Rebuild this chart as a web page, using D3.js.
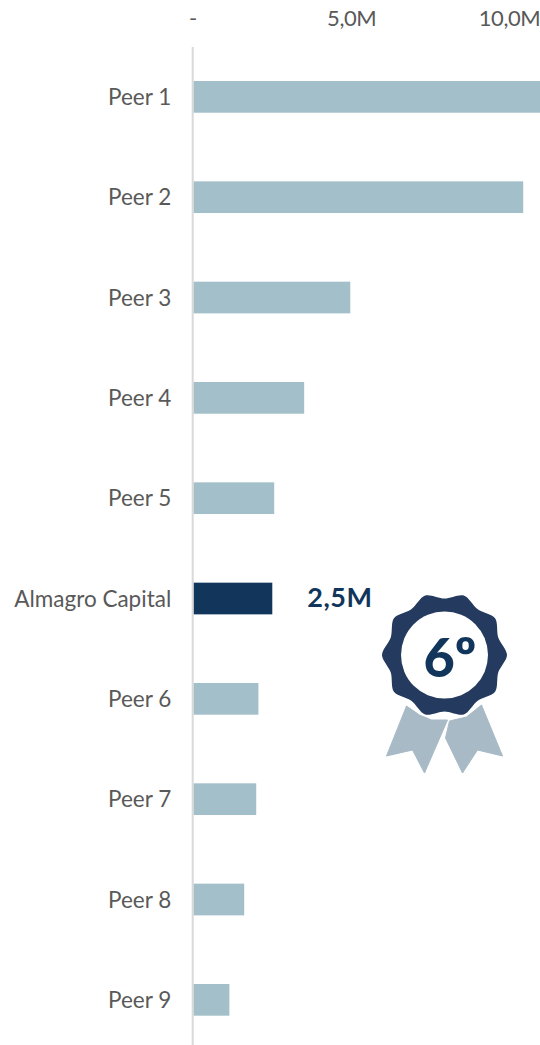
<!DOCTYPE html>
<html>
<head>
<meta charset="utf-8">
<script src="https://cdn.jsdelivr.net/npm/d3@7"></script>
<style>
html,body{margin:0;padding:0;background:#fff;overflow:hidden}
svg{display:block}
text{font-family:Lato,sans-serif}
</style>
</head>
<body>
<svg id="c" width="540" height="1045"></svg>
<script>
const categories = ["Peer 1","Peer 2","Peer 3","Peer 4","Peer 5","Almagro Capital","Peer 6","Peer 7","Peer 8","Peer 9"];
const values = [11.2,10.45,4.97,3.51,2.56,2.5,2.06,1.99,1.61,1.14];
const highlight = "Almagro Capital";
const highlightLabel = "2,5M";
const tickValues = [0,5,10];
const tickLabels = ["-","5,0M","10,0M"];
const rankLabel = "6º";

const svg = d3.select("#c");
const x = d3.scaleLinear().domain([0,10]).range([193.4,509]);
const y = d3.scaleBand().domain(categories).range([47,1049.7]).paddingInner(0.684).paddingOuter(0.339);

// Bars
svg.append("g").selectAll("rect").data(categories).join("rect")
  .attr("x",x(0))
  .attr("y",d=>y(d))
  .attr("width",(d,i)=>x(values[i])-x(0))
  .attr("height",y.bandwidth())
  .attr("fill",d=>d===highlight?"#12365b":"#a3bfc9");

// Category axis
const yAxis = svg.append("g").attr("transform","translate(192.7,0)")
  .call(d3.axisLeft(y).tickSize(0).tickPadding(21.5));
yAxis.select(".domain").remove();
yAxis.append("line").attr("x1",0).attr("x2",0).attr("y1",47).attr("y2",1045)
  .attr("stroke","#d9d9d9").attr("stroke-width",2);
yAxis.selectAll(".tick text").attr("fill","#595959").attr("dy","0.36em")
  .style("font-size","22.5px").style("font-family","Lato,sans-serif");

// Value axis
const xAxis = svg.append("g").attr("transform","translate(0,25.5)")
  .call(d3.axisTop(x).tickValues(tickValues).tickFormat((d,i)=>tickLabels[i]).tickSize(0).tickPadding(0));
xAxis.select(".domain").remove();
xAxis.selectAll(".tick text").attr("fill","#595959").style("letter-spacing","-0.4px")
  .style("font-size","22px").style("font-family","Lato,sans-serif");
xAxis.selectAll(".tick text").filter((d,i)=>i===0).attr("dx","-1");

// Highlight value label
const hi = categories.indexOf(highlight);
svg.append("text").attr("x",x(values[hi])+35).attr("y",y(highlight)+y.bandwidth()/2+8)
  .attr("fill","#12365b").style("font-size","27px").style("font-weight","700").style("letter-spacing","0.5px")
  .text(highlightLabel);

// Rank badge
const badge = svg.append("g").attr("transform","translate(444.5,655)");
const ribbons = [
  [[-38,-1],[-25,8],[-13,13],[3,13],[-20,66],[-32,43],[-58,49]],
  [[37,-2],[58,49],[33,43],[18,66],[1,31],[5,14],[22,10]]
];
const rib = d3.line().curve(d3.curveLinearClosed);
badge.append("g").attr("transform","translate(0,52)").selectAll("path").data(ribbons).join("path")
  .attr("d",rib).attr("fill","#a8bac6").attr("stroke","#a8bac6").attr("stroke-width",1).attr("stroke-linejoin","round");
const lobes = d3.range(20).map(i=>[i*Math.PI/10+Math.PI/10, i%2===0?62.5:56.5]);
const seal = d3.lineRadial().curve(d3.curveCardinalClosed.tension(0.1));
badge.append("path").attr("d",seal(lobes)).attr("fill","#243a5e").attr("stroke","#fff").attr("stroke-width",3).attr("paint-order","stroke");
badge.append("circle").attr("r",43.5).attr("fill","#fff");
badge.append("text").attr("text-anchor","middle").attr("x",5.5).attr("y",22)
  .attr("fill","#12365b").style("font-size","54px").style("font-weight","900").text(rankLabel);
</script>
</body>
</html>
